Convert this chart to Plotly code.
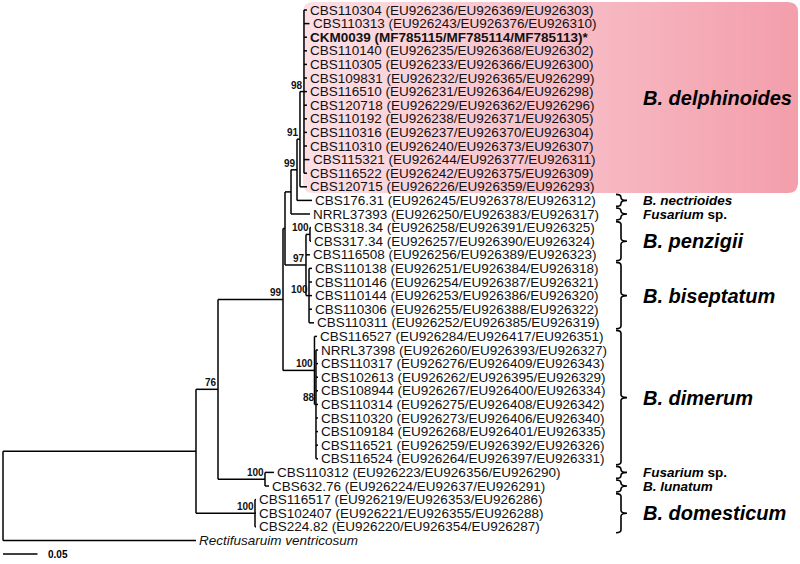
import plotly.graph_objects as go

# ---------------- data ----------------
leaf_labels = [
    "CBS110304 (EU926236/EU926369/EU926303)",
    "CBS110313 (EU926243/EU926376/EU926310)",
    "CKM0039 (MF785115/MF785114/MF785113)*",
    "CBS110140 (EU926235/EU926368/EU926302)",
    "CBS110305 (EU926233/EU926366/EU926300)",
    "CBS109831 (EU926232/EU926365/EU926299)",
    "CBS116510 (EU926231/EU926364/EU926298)",
    "CBS120718 (EU926229/EU926362/EU926296)",
    "CBS110192 (EU926238/EU926371/EU926305)",
    "CBS110316 (EU926237/EU926370/EU926304)",
    "CBS110310 (EU926240/EU926373/EU926307)",
    "CBS115321 (EU926244/EU926377/EU926311)",
    "CBS116522 (EU926242/EU926375/EU926309)",
    "CBS120715 (EU926226/EU926359/EU926293)",
    "CBS176.31 (EU926245/EU926378/EU926312)",
    "NRRL37393 (EU926250/EU926383/EU926317)",
    "CBS318.34 (EU926258/EU926391/EU926325)",
    "CBS317.34 (EU926257/EU926390/EU926324)",
    "CBS116508 (EU926256/EU926389/EU926323)",
    "CBS110138 (EU926251/EU926384/EU926318)",
    "CBS110146 (EU926254/EU926387/EU926321)",
    "CBS110144 (EU926253/EU926386/EU926320)",
    "CBS110306 (EU926255/EU926388/EU926322)",
    "CBS110311 (EU926252/EU926385/EU926319)",
    "CBS116527 (EU926284/EU926417/EU926351)",
    "NRRL37398 (EU926260/EU926393/EU926327)",
    "CBS110317 (EU926276/EU926409/EU926343)",
    "CBS102613 (EU926262/EU926395/EU926329)",
    "CBS108944 (EU926267/EU926400/EU926334)",
    "CBS110314 (EU926275/EU926408/EU926342)",
    "CBS110320 (EU926273/EU926406/EU926340)",
    "CBS109184 (EU926268/EU926401/EU926335)",
    "CBS116521 (EU926259/EU926392/EU926326)",
    "CBS116524 (EU926264/EU926397/EU926331)",
    "CBS110312 (EU926223/EU926356/EU926290)",
    "CBS632.76 (EU926224/EU92637/EU926291)",
    "CBS116517 (EU926219/EU926353/EU926286)",
    "CBS102407 (EU926221/EU926355/EU926288)",
    "CBS224.82 (EU926220/EU926354/EU926287)",
    "Rectifusaruim ventricosum",
]
# distance of each tip from the root (substitutions per site)
leaf_depth = [
    0.4406, 0.4442, 0.4406, 0.4406, 0.4406, 0.4406, 0.4406, 0.4406, 0.4406, 0.4406,
    0.4406, 0.4442, 0.4406, 0.4406, 0.4478, 0.4449, 0.4464, 0.4464, 0.4449, 0.4478,
    0.4478, 0.4478, 0.4478, 0.4507, 0.4551, 0.4565, 0.4565, 0.4565, 0.4565, 0.4565,
    0.4565, 0.4565, 0.4565, 0.4565, 0.3928, 0.3855, 0.3667, 0.3667, 0.3667, 0.2797,
]
leaf_bold = [2]
leaf_italic = [39]

node_names = ["R", "A", "B", "C", "D", "E", "G", "K", "K2", "H", "P", "Bis", "Dim", "S88", "F", "Dom"]
node_depth = [0.0, 0.2797, 0.3116, 0.4058, 0.4087, 0.4174, 0.4261, 0.4304, 0.4362, 0.4391,
              0.4449, 0.4435, 0.4514, 0.4536, 0.3797, 0.3652]
node_children = [
    ["A", 39],
    ["B", "Dom"],
    ["C", "F"],
    ["D", "Dim"],
    ["E", "H"],
    ["G", 15],
    ["K", 14],
    ["K2", 13],
    list(range(0, 13)),
    ["P", 18, "Bis"],
    [16, 17],
    list(range(19, 24)),
    [24, "S88"],
    list(range(25, 34)),
    [34, 35],
    [36, 37, 38],
]
node_support = ["", "", "76", "99", "", "", "99", "91", "98", "97", "100", "100", "100", "88", "100", "100"]

clade_names = ["<b><i>B. delphinoides</i></b>", "<b><i>B. nectrioides</i></b>", "<b><i>Fusarium</i> sp.</b>",
               "<b><i>B. penzigii</i></b>", "<b><i>B. biseptatum</i></b>", "<b><i>B. dimerum</i></b>",
               "<b><i>Fusarium</i> sp.</b>", "<b><i>B. lunatum</i></b>", "<b><i>B. domesticum</i></b>"]
clade_first = [0, 14, 15, 16, 19, 24, 34, 35, 36]
clade_last = [13, 14, 15, 18, 23, 33, 34, 35, 38]
clade_big = [True, False, False, True, True, True, False, False, True]

scale_value = 0.05

# ---------------- layout helpers ----------------
W, H = 800, 564
X0_PX, PX_PER_UNIT = 3.0, 690.0
ROW0, ROW_H = 10.0, 13.6
FONT = "Liberation Sans, Arial, sans-serif"


def px2u(px):
    return (px - X0_PX) / PX_PER_UNIT


def py2r(py):
    return (py - ROW0) / ROW_H


def fx(px):
    return px / W


def fy(py):
    return 1 - py / H


idx = {n: i for i, n in enumerate(node_names)}
ypos = {}


def node_y(c):
    if isinstance(c, int):
        return float(c)
    if c in ypos:
        return ypos[c]
    ys = [node_y(k) for k in node_children[idx[c]]]
    ypos[c] = (ys[0] + ys[-1]) / 2.0
    return ypos[c]


def node_x(c):
    return leaf_depth[c] if isinstance(c, int) else node_depth[idx[c]]


for n in node_names:
    node_y(n)

lx, ly = [], []
for n in node_names:
    ch = node_children[idx[n]]
    x = node_depth[idx[n]]
    ys = [node_y(k) for k in ch]
    lx += [x, x, None]
    ly += [ys[0], ys[-1], None]
    for k in ch:
        lx += [x, node_x(k), None]
        ly += [node_y(k), node_y(k), None]

fig = go.Figure()

# pink highlight box with horizontal gradient
shapes = []
bx0, bx1, by0, by1, rad = 303, 798, 2, 193, 10
c0, c1 = (252, 224, 229), (243, 158, 171)


def col(t):
    return "rgb(%d,%d,%d)" % tuple(round(a + (b - a) * t) for a, b in zip(c0, c1))


N = 100
inner0, inner1 = bx0 + rad, bx1 - rad
for i in range(N):
    xa = inner0 + (inner1 - inner0) * i / N
    xb = inner0 + (inner1 - inner0) * (i + 1) / N + 0.8
    t = ((xa + xb) / 2 - bx0) / (bx1 - bx0)
    shapes.append(dict(type="rect", xref="paper", yref="paper", x0=fx(xa), x1=fx(xb),
                       y0=fy(by1), y1=fy(by0), fillcolor=col(t), line_width=0, layer="below"))
lp = "M %f,%f Q %f,%f %f,%f L %f,%f Q %f,%f %f,%f Z" % (
    fx(inner0 + 0.5), fy(by0), fx(bx0), fy(by0), fx(bx0), fy(by0 + rad), fx(bx0), fy(by1 - rad),
    fx(bx0), fy(by1), fx(inner0 + 0.5), fy(by1))
shapes.append(dict(type="path", xref="paper", yref="paper", path=lp, fillcolor=col(0.01), line_width=0, layer="below"))
rp = "M %f,%f Q %f,%f %f,%f L %f,%f Q %f,%f %f,%f Z" % (
    fx(inner1 - 0.5), fy(by0), fx(bx1), fy(by0), fx(bx1), fy(by0 + rad), fx(bx1), fy(by1 - rad),
    fx(bx1), fy(by1), fx(inner1 - 0.5), fy(by1))
shapes.append(dict(type="path", xref="paper", yref="paper", path=rp, fillcolor=col(0.99), line_width=0, layer="below"))

# braces
BX = 621
for f, l, big in zip(clade_first, clade_last, clade_big):
    if f == 0:
        continue
    ytop = ROW0 + ROW_H * f - 6
    ybot = ROW0 + ROW_H * l + 6
    ym = (ytop + ybot) / 2
    hk = 3
    p = ("M %f,%f Q %f,%f %f,%f L %f,%f Q %f,%f %f,%f Q %f,%f %f,%f L %f,%f Q %f,%f %f,%f" % (
        fx(BX - 5), fy(ytop), fx(BX), fy(ytop), fx(BX), fy(ytop + hk),
        fx(BX), fy(ym - hk),
        fx(BX), fy(ym), fx(BX + 6), fy(ym),
        fx(BX), fy(ym), fx(BX), fy(ym + hk),
        fx(BX), fy(ybot - hk),
        fx(BX), fy(ybot), fx(BX - 5), fy(ybot)))
    shapes.append(dict(type="path", xref="paper", yref="paper", path=p, line=dict(color="black", width=1.6)))

fig.add_trace(go.Scatter(x=lx, y=ly, mode="lines", line=dict(color="black", width=1.5),
                         hoverinfo="skip", showlegend=False))

# scale bar
sb_y = py2r(554)
fig.add_trace(go.Scatter(x=[px2u(3), px2u(3) + scale_value], y=[sb_y, sb_y], mode="lines",
                         line=dict(color="black", width=1.6), hoverinfo="skip", showlegend=False))

ann = []
for i, lab in enumerate(leaf_labels):
    txt = lab
    if i in leaf_bold:
        txt = "<b>%s</b>" % lab
    if i in leaf_italic:
        txt = "<i>%s</i>" % lab
    ann.append(dict(x=leaf_depth[i], y=i, text=txt, showarrow=False, xanchor="left", yanchor="middle",
                    xshift=1, font=dict(family=FONT, size=13.5, color="#111")))
for n, s in zip(node_names, node_support):
    if s:
        ann.append(dict(x=node_depth[idx[n]], y=ypos[n], text="<b>%s</b>" % s, showarrow=False,
                        xanchor="right", yanchor="bottom", xshift=1, yshift=-1,
                        font=dict(family=FONT, size=10, color="#111")))
for name, f, l, big in zip(clade_names, clade_first, clade_last, clade_big):
    ym = (f + l) / 2
    ann.append(dict(x=641 / W, xref="paper", y=ym, text=name, showarrow=False, xanchor="left",
                    yanchor="middle", font=dict(family=FONT, size=20 if big else 13.5, color="black")))
ann.append(dict(x=px2u(46), y=sb_y, text="<b>%g</b>" % scale_value, showarrow=False, xanchor="left",
                yanchor="middle", font=dict(family=FONT, size=10, color="black")))

fig.update_layout(
    width=W, height=H, margin=dict(l=0, r=0, t=0, b=0),
    paper_bgcolor="white", plot_bgcolor="rgba(0,0,0,0)",
    xaxis=dict(range=[px2u(0), px2u(W)], visible=False, fixedrange=True),
    yaxis=dict(range=[py2r(H), py2r(0)], visible=False, fixedrange=True),
    shapes=shapes, annotations=ann, showlegend=False,
)
fig.write_html("out.html", config={"displayModeBar": False, "staticPlot": True},
               post_script="document.body.style.margin='0px';document.body.style.overflow='hidden';")
